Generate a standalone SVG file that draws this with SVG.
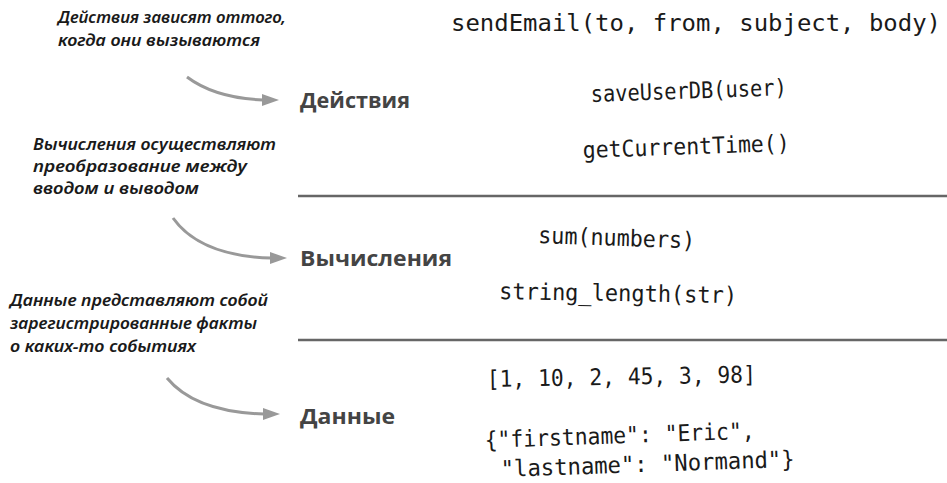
<svg xmlns="http://www.w3.org/2000/svg" width="947" height="483" viewBox="0 0 947 483">
<style>
.note{font-family:"Noto Sans","Liberation Sans",sans-serif;font-style:italic;font-weight:600;font-size:16px;fill:#1a1a1a}
.label{font-family:"Open Sans","Liberation Sans",sans-serif;font-weight:700;font-size:22px;fill:#444}
.code{font-family:"DejaVu Sans Mono","Liberation Mono",monospace;font-size:23px;fill:#1a1a1a}
.sep{stroke:#666;stroke-width:2.5;fill:none}
.arr{stroke:#999;stroke-width:3;fill:none}
.head{fill:#999}
</style>
<rect width="947" height="483" fill="#fff"/>
<g id="notes">
<text class="note" x="58" y="23" textLength="228" lengthAdjust="spacingAndGlyphs">Действия зависят оттого,</text>
<text class="note" x="58" y="46" textLength="202" lengthAdjust="spacingAndGlyphs">когда они вызываются</text>
<text class="note" x="33" y="150" textLength="243" lengthAdjust="spacingAndGlyphs">Вычисления осуществляют</text>
<text class="note" x="33" y="172" textLength="214" lengthAdjust="spacingAndGlyphs">преобразование между</text>
<text class="note" x="33" y="194" textLength="166" lengthAdjust="spacingAndGlyphs">вводом и выводом</text>
<text class="note" x="10" y="306" textLength="258" lengthAdjust="spacingAndGlyphs">Данные представляют собой</text>
<text class="note" x="10" y="329" textLength="247" lengthAdjust="spacingAndGlyphs">зарегистрированные факты</text>
<text class="note" x="10" y="352" textLength="186" lengthAdjust="spacingAndGlyphs">о каких-то событиях</text>
</g>
<g id="connectors">
<path class="arr" d="M187,77 Q215,98 263,100"/>
<polygon class="head" points="279,100 262,94 262,106"/>
<path class="arr" d="M173,218 Q200,256 271,258"/>
<polygon class="head" points="287,258 270,252 270,264"/>
<path class="arr" d="M167,378 Q195,412 264,414"/>
<polygon class="head" points="280,414 263,408 263,420"/>
<line class="sep" x1="298" y1="196" x2="947" y2="196"/>
<line class="sep" x1="298" y1="340" x2="947" y2="340"/>
</g>
<g id="actions">
<text class="label" x="300" y="108" textLength="110" lengthAdjust="spacingAndGlyphs">Действия</text>
<text class="code" x="451" y="31" textLength="490" lengthAdjust="spacingAndGlyphs">sendEmail(to, from, subject, body)</text>
<text class="code" x="591" y="102" textLength="196" lengthAdjust="spacingAndGlyphs" transform="rotate(-2 591 102)">saveUserDB(user)</text>
<text class="code" x="583" y="158" textLength="207" lengthAdjust="spacingAndGlyphs" transform="rotate(-2 583 158)">getCurrentTime()</text>
</g>
<g id="calculations">
<text class="label" x="300" y="266" textLength="152" lengthAdjust="spacingAndGlyphs">Вычисления</text>
<text class="code" x="538" y="243" textLength="157" lengthAdjust="spacingAndGlyphs" transform="rotate(2 538 243)">sum(numbers)</text>
<text class="code" x="499" y="299" textLength="238" lengthAdjust="spacingAndGlyphs" transform="rotate(1 499 299)">string_length(str)</text>
</g>
<g id="data">
<text class="label" x="300" y="424" textLength="95" lengthAdjust="spacingAndGlyphs">Данные</text>
<text class="code" x="487" y="387" textLength="269" lengthAdjust="spacingAndGlyphs" transform="rotate(-1 487 387)">[1, 10, 2, 45, 3, 98]</text>
<text class="code" x="485" y="448" textLength="270" lengthAdjust="spacingAndGlyphs" transform="rotate(-2 485 448)">{"firstname": "Eric",</text>
<text class="code" x="501" y="477" textLength="294" lengthAdjust="spacingAndGlyphs" transform="rotate(-2 501 477)">"lastname": "Normand"}</text>
</g>
</svg>
